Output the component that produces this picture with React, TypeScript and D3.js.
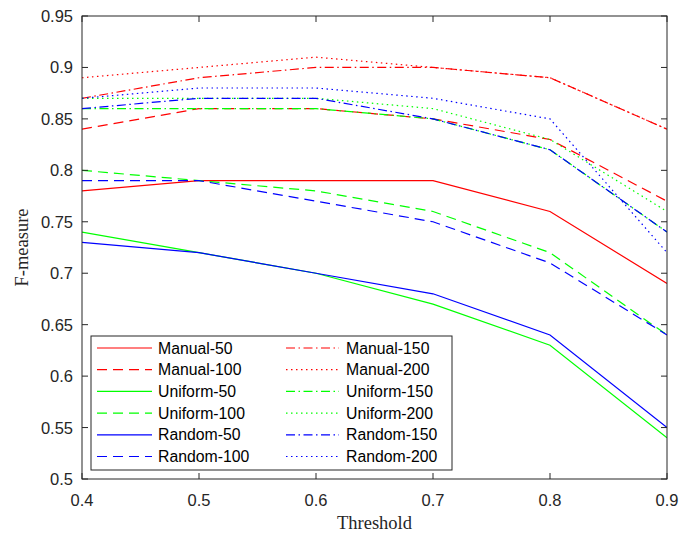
import React from "react";
import * as d3 from "d3";

const thresholds = [0.4, 0.5, 0.6, 0.7, 0.8, 0.9];
const xTicks = [0.4, 0.5, 0.6, 0.7, 0.8, 0.9];
const yTicks = [0.5, 0.55, 0.6, 0.65, 0.7, 0.75, 0.8, 0.85, 0.9, 0.95];

const seriesNames = [
  "Manual-50", "Manual-100", "Uniform-50", "Uniform-100", "Random-50", "Random-100",
  "Manual-150", "Manual-200", "Uniform-150", "Uniform-200", "Random-150", "Random-200",
];
const manual50 = [0.78, 0.79, 0.79, 0.79, 0.76, 0.69];
const manual100 = [0.84, 0.86, 0.86, 0.85, 0.83, 0.77];
const uniform50 = [0.74, 0.72, 0.70, 0.67, 0.63, 0.54];
const uniform100 = [0.80, 0.79, 0.78, 0.76, 0.72, 0.64];
const random50 = [0.73, 0.72, 0.70, 0.68, 0.64, 0.55];
const random100 = [0.79, 0.79, 0.77, 0.75, 0.71, 0.64];
const manual150 = [0.87, 0.89, 0.90, 0.90, 0.89, 0.84];
const manual200 = [0.89, 0.90, 0.91, 0.90, 0.89, 0.84];
const uniform150 = [0.86, 0.86, 0.86, 0.85, 0.82, 0.74];
const uniform200 = [0.87, 0.87, 0.87, 0.86, 0.83, 0.76];
const random150 = [0.86, 0.87, 0.87, 0.85, 0.82, 0.74];
const random200 = [0.87, 0.88, 0.88, 0.87, 0.85, 0.72];

const seriesValues = [
  manual50, manual100, uniform50, uniform100, random50, random100,
  manual150, manual200, uniform150, uniform200, random150, random200,
];

const RED = "#ff0000";
const GREEN = "#00ff00";
const BLUE = "#0000ff";
const colors = [RED, RED, GREEN, GREEN, BLUE, BLUE, RED, RED, GREEN, GREEN, BLUE, BLUE];
const SOLID = "none";
const DASH = "10,6";
const DASHDOT = "9,3.5,1.5,3.5";
const DOT = "1.5,3.5";
const dashes = [SOLID, DASH, SOLID, DASH, SOLID, DASH, DASHDOT, DOT, DASHDOT, DOT, DASHDOT, DOT];

const L = 82, R = 667, T = 16, B = 479;
const AXIS = "#262626";

export default function App() {
  const x = d3.scaleLinear().domain([0.4, 0.9]).range([L, R]);
  const y = d3.scaleLinear().domain([0.5, 0.95]).range([B, T]);
  const line = d3
    .line<number>()
    .x((_, i) => x(thresholds[i]))
    .y((v) => y(v));

  const legX = 91, legY = 336, legW = 361, legH = 134;
  const rowY0 = 348, rowStep = 21.7;

  return (
    <svg width={692} height={536} style={{ position: "absolute", left: 0, top: 0, background: "#fff" }}>
      <rect x={0} y={0} width={692} height={536} fill="#fff" />
      <defs>
        <clipPath id="plotclip">
          <rect x={L} y={T} width={R - L} height={B - T} />
        </clipPath>
      </defs>
      <g clipPath="url(#plotclip)">
        {seriesValues.map((vals, i) => (
          <path
            key={seriesNames[i]}
            d={line(vals) || ""}
            fill="none"
            stroke={colors[i]}
            strokeWidth={1.2}
            strokeDasharray={dashes[i]}
          />
        ))}
      </g>
      {/* axes box */}
      <rect x={L} y={T} width={R - L} height={B - T} fill="none" stroke={AXIS} strokeWidth={1} />
      {xTicks.map((t) => (
        <g key={"x" + t}>
          <line x1={x(t)} x2={x(t)} y1={B} y2={B - 6} stroke={AXIS} />
          <line x1={x(t)} x2={x(t)} y1={T} y2={T + 6} stroke={AXIS} />
          <text
            x={x(t)}
            y={500}
            textAnchor="middle"
            dominantBaseline="central"
            fontFamily="Liberation Sans, Arial, sans-serif"
            fontSize={16.5}
            fill="#262626"
          >
            {t}
          </text>
        </g>
      ))}
      {yTicks.map((t) => (
        <g key={"y" + t}>
          <line x1={L} x2={L + 6} y1={y(t)} y2={y(t)} stroke={AXIS} />
          <line x1={R} x2={R - 6} y1={y(t)} y2={y(t)} stroke={AXIS} />
          <text
            x={73}
            y={y(t)}
            textAnchor="end"
            dominantBaseline="central"
            fontFamily="Liberation Sans, Arial, sans-serif"
            fontSize={16.5}
            fill="#262626"
          >
            {t}
          </text>
        </g>
      ))}
      <text
        x={(L + R) / 2}
        y={523}
        textAnchor="middle"
        dominantBaseline="central"
        fontFamily="Liberation Serif, Times New Roman, serif"
        fontSize={18.5}
        fill="#262626"
      >
        Threshold
      </text>
      <text
        transform={`translate(22, ${(T + B) / 2}) rotate(-90)`}
        textAnchor="middle"
        dominantBaseline="central"
        fontFamily="Liberation Serif, Times New Roman, serif"
        fontSize={18.5}
        fill="#262626"
      >
        F-measure
      </text>
      {/* legend */}
      <rect x={legX} y={legY} width={legW} height={legH} fill="#fff" stroke={AXIS} strokeWidth={1} />
      {seriesNames.map((name, i) => {
        const col = i < 6 ? 0 : 1;
        const row = i % 6;
        const ly = rowY0 + row * rowStep;
        const x1 = col === 0 ? 97 : 286;
        const x2 = col === 0 ? 152 : 339;
        const tx = col === 0 ? 158 : 346;
        return (
          <g key={"leg" + name}>
            <line x1={x1} x2={x2} y1={ly} y2={ly} stroke={colors[i]} strokeWidth={1.2} strokeDasharray={dashes[i]} />
            <text
              x={tx}
              y={ly}
              dominantBaseline="central"
              fontFamily="Liberation Sans, Arial, sans-serif"
              fontSize={15.8}
              fill="#000"
            >
              {name}
            </text>
          </g>
        );
      })}
    </svg>
  );
}
